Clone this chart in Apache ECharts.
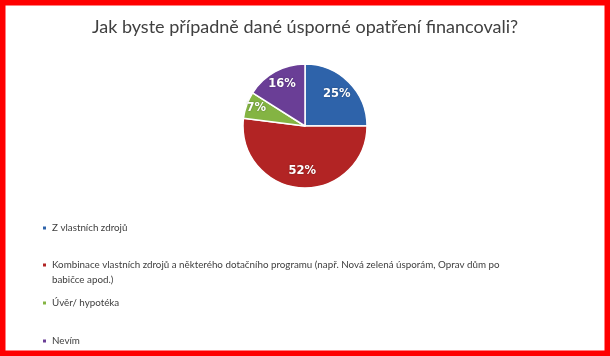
<!DOCTYPE html>
<html>
<head>
<meta charset="utf-8">
<script src="https://cdn.jsdelivr.net/npm/echarts@6/dist/echarts.min.js"></script>
<style>
html,body{margin:0;padding:0;background:#fff;}
#chart{width:610px;height:356px;}
</style>
</head>
<body>
<div id="chart"></div>
<script>
var TITLE = 'Jak byste případně dané úsporné opatření financovali?';
var categories = [
  'Z vlastních zdrojů',
  'Kombinace vlastních zdrojů a některého dotačního programu (např. Nová zelená úsporám, Oprav dům po babičce apod.)',
  'Úvěr/ hypotéka',
  'Nevím'
];
var values = [25, 52, 7, 16];
var colors = ['#2E63AA', '#B22424', '#84B443', '#6A3E96'];

var CENTER = [305, 126];
var RADIUS = 62;
// label distance from centre as a fraction of radius (Excel-like placement)
var LABEL_RATIO = [0.66, 0.66, 0.76, 0.70];
var LEGEND_TOPS = [220.5, 242.5, 295.5, 333.5];
var LEGEND_SIZE = 9.8;
var LEGEND_WRAP = 455;

// word-wrap a legend label to the legend width
var measureCtx = document.createElement('canvas').getContext('2d');
function wrap(text) {
  measureCtx.font = LEGEND_SIZE + 'px Lato';
  var words = text.split(' '), lines = [], cur = '';
  words.forEach(function (w) {
    var t = cur ? cur + ' ' + w : w;
    if (cur && measureCtx.measureText(t).width > LEGEND_WRAP) { lines.push(cur); cur = w; }
    else cur = t;
  });
  if (cur) lines.push(cur);
  return lines;
}

var chart = echarts.init(document.getElementById('chart'), null, {renderer: 'canvas'});

var legends = categories.map(function (name, i) {
  return {
    data: [name],
    orient: 'vertical',
    left: 41,
    top: LEGEND_TOPS[i],
    padding: 0,
    icon: 'rect',
    itemWidth: 5,
    itemHeight: 5,
    selectedMode: false,
    formatter: function (n) {
      var lines = wrap(n);
      // pad with a blank line above so the marker sits on the first line
      return lines.length > 1 ? '\n' + lines.join('\n') : lines[0];
    },
    textStyle: {
      fontFamily: 'Lato',
      fontSize: LEGEND_SIZE,
      color: '#404040',
      lineHeight: 15
    }
  };
});

var option = {
  animation: false,
  color: colors,
  title: {
    text: TITLE,
    left: 'center',
    top: 15,
    padding: 0,
    textStyle: {
      fontFamily: 'Lato',
      fontSize: 18,
      fontWeight: 'normal',
      color: '#404040',
      lineHeight: 24
    }
  },
  legend: legends,
  graphic: [{
    type: 'rect',
    shape: {x: 0, y: 0, width: 610, height: 356},
    style: {fill: 'none', stroke: '#FF0000', lineWidth: 11},
    z: 100
  }],
  series: [{
    type: 'pie',
    center: CENTER,
    radius: [0, RADIUS],
    startAngle: 90,
    clockwise: true,
    avoidLabelOverlap: false,
    itemStyle: {borderColor: '#ffffff', borderWidth: 1.5},
    label: {
      show: true,
      position: 'inside',
      formatter: '{c}%',
      color: '#ffffff',
      fontFamily: 'DejaVu Sans',
      fontWeight: 'bold',
      fontSize: 11.5,
      textShadowColor: 'rgba(0,0,0,0.35)',
      textShadowBlur: 2
    },
    labelLine: {show: false},
    labelLayout: function (p) {
      var r = p.labelRect;
      var lx = r.x + r.width / 2;
      var ly = r.y + r.height / 2;
      var k = LABEL_RATIO[p.dataIndex] / 0.5 - 1;
      return {dx: (lx - CENTER[0]) * k, dy: (ly - CENTER[1]) * k};
    },
    data: categories.map(function (n, i) { return {name: n, value: values[i]}; })
  }]
};
chart.setOption(option);
</script>
</body>
</html>
